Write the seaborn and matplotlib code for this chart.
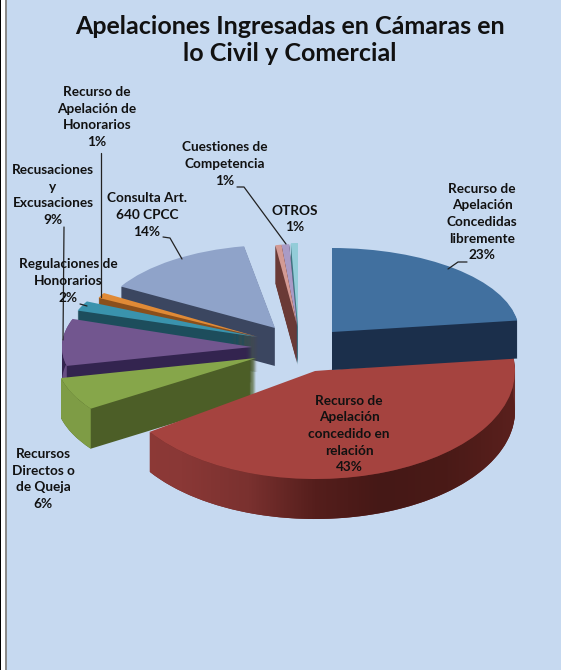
"""Apelaciones ingresadas: exploded pseudo-3D pie."""
import matplotlib
matplotlib.use("Agg")
import matplotlib.pyplot as plt
import numpy as np
import seaborn as sns
from matplotlib.patches import Polygon
from matplotlib.transforms import Affine2D

W, H = 561, 670

TITLE = "Apelaciones Ingresadas en Cámaras en\nlo Civil y Comercial"

# slices clockwise from 12 o'clock; the pink one has no label in the chart
slice_names = [
    "Recurso de\nApelación\nConcedidas\nlibremente",
    "Recurso de\nApelación\nconcedido en\nrelación",
    "Recursos\nDirectos o\nde Queja",
    "Recusaciones\ny\nExcusaciones",
    "Regulaciones de\nHonorarios",
    "Recurso de\nApelación de\nHonorarios",
    "Consulta Art.\n640 CPCC",
    "",
    "Cuestiones de\nCompetencia",
    "OTROS",
]
slice_values = [23, 43, 6, 9, 2, 1, 14, 0.8, 1, 1]
slice_pct = ["23%", "43%", "6%", "9%", "2%", "1%", "14%", "", "1%", "1%"]

top_colors = ["#41709f", "#a5433f", "#86a64a", "#72568f", "#3a93ad",
              "#e08a36", "#8fa3c9", "#d39a94", "#a99bc6", "#93ccd8"]
side_colors = ["#1b2f4b", "#6a2a28", "#4c5e27", "#33244f", "#1d4d5c",
               "#8a4f1c", "#3b4660", "#6a3a36", "#4f4568", "#3f7480"]
arc_colors = {2: "#7e9c45", 3: "#684e84"}

# placement of each exploded slice: apex x, apex y, radius x, radius y, depth
placement = [
    (332, 332, 187, 84, 38),
    (315, 371, 200, 108, 40),
    (256, 358, 200, 90, 40),
    (252, 347, 190, 85, 35),
    (257, 337, 190, 80, 35),
    (258, 337, 178, 88, 35),
    (275, 328, 178, 83, 38),
    (297, 325, 125, 81, 38),
    (297, 325, 125, 81, 38),
    (298, 327, 115, 84, 38),
]
draw_order = [6, 9, 8, 7, 5, 4, 3, 2, 1, 0]

# label centre x, centre y
label_pos = [
    (482, 222), (349, 434), (43, 479), (53, 195), (68, 281),
    (97, 117), (147, 215), None, (225, 164), (295, 219),
]
leaders = [
    [(467, 262), (458, 262), (448, 269)],
    [(101, 153), (101, 297)],
    [(64, 227), (63, 340)],
    [(163, 237), (170, 238), (182, 259)],
    [(237, 187), (244, 187), (286, 244)],
    [(80, 304), (87, 306)],
]

sns.set_theme(style="white")
plt.rcParams["font.family"] = ["Lato", "DejaVu Sans"]


def slice_transform(ax, i, drop=0):
    cx, cy, rx, ry, _ = placement[i]
    return Affine2D().scale(rx, ry).translate(cx, H - cy - drop) + ax.transData


def arc_band(ax, i, wedge, **kwargs):
    """Polygon for the rounded outer side of a slice."""
    cx, cy, rx, ry, depth = placement[i]
    t = np.radians(np.linspace(wedge.theta1, wedge.theta2, 120))
    upper = np.column_stack([np.cos(t), np.sin(t)]) * [rx, ry] + [cx, H - cy]
    lower = upper - [0, depth]
    band = Polygon(np.vstack([upper, lower[::-1]]), closed=True, transform=ax.transData,
                   edgecolor="none", **kwargs)
    ax.add_patch(band)
    return band


def main() -> None:
    fig = plt.figure(figsize=(W / 100, H / 100), dpi=100, facecolor="#c6d9f0")
    ax = fig.add_axes([0, 0, 1, 1])
    rank = {s: n for n, s in enumerate(draw_order)}

    max_depth = max(p[4] for p in placement)
    top_wedges = {}
    for drop in range(max_depth, -1, -1):
        wedges, _ = ax.pie(slice_values, startangle=90, counterclock=False, radius=1)
        for i, wedge in enumerate(wedges):
            if drop > placement[i][4]:
                wedge.set_visible(False)
                continue
            wedge.set_transform(slice_transform(ax, i, drop))
            wedge.set_facecolor(top_colors[i] if drop == 0 else side_colors[i])
            wedge.set_edgecolor("none")
            wedge.set_linewidth(0)
            wedge.set_zorder(2 + rank[i] + (0.5 if drop == 0 else 0))
            if drop == 0:
                top_wedges[i] = wedge

    for i, color in arc_colors.items():
        arc_band(ax, i, top_wedges[i], facecolor=color, zorder=2 + rank[i] + 0.2)

    # the long red side darkens towards the front
    band = arc_band(ax, 1, top_wedges[1], facecolor="none")
    cx, cy, rx, ry, depth = placement[1]
    cmap = sns.blend_palette(["#8f3b38", "#8a3836", "#7a312f", "#551e1c", "#451816", "#4a1a17", "#5a201d"],
                             as_cmap=True)
    grad = np.linspace(0, 1, 256)[None, :]
    img = ax.imshow(grad, cmap=cmap, aspect="auto", extent=(cx - rx, cx + rx, H - cy - ry - depth, H - cy),
                    zorder=2 + rank[1] + 0.2)
    img.set_clip_path(band)

    ax.set_aspect("auto")
    ax.set_xlim(0, W)
    ax.set_ylim(0, H)
    ax.set_axis_off()

    for pts in leaders:
        xs, ys = zip(*pts)
        ax.plot(xs, [H - y for y in ys], color="#222222", lw=0.9, zorder=20)

    # page edge on the left of the scan
    ax.axvspan(0, 1.5, color="#000000", zorder=30, lw=0)
    ax.axvspan(1.5, 5, color="#ffffff", zorder=29, lw=0)
    ax.axvspan(5, 7, color="#8a8a8a", zorder=30, lw=0)

    for i, pos in enumerate(label_pos):
        if pos is None:
            continue
        ax.text(pos[0], H - pos[1], f"{slice_names[i]}\n{slice_pct[i]}", ha="center", va="center",
                fontsize=9.8, fontweight="bold", color="#111111", linespacing=1.46, zorder=25)

    ax.text(290, H - 40, TITLE, ha="center", va="center", fontsize=18, fontweight="bold",
            color="#111111", linespacing=1.2, zorder=25)

    fig.savefig("out.png", dpi=100, facecolor=fig.get_facecolor())
    plt.close(fig)


if __name__ == "__main__":
    main()
